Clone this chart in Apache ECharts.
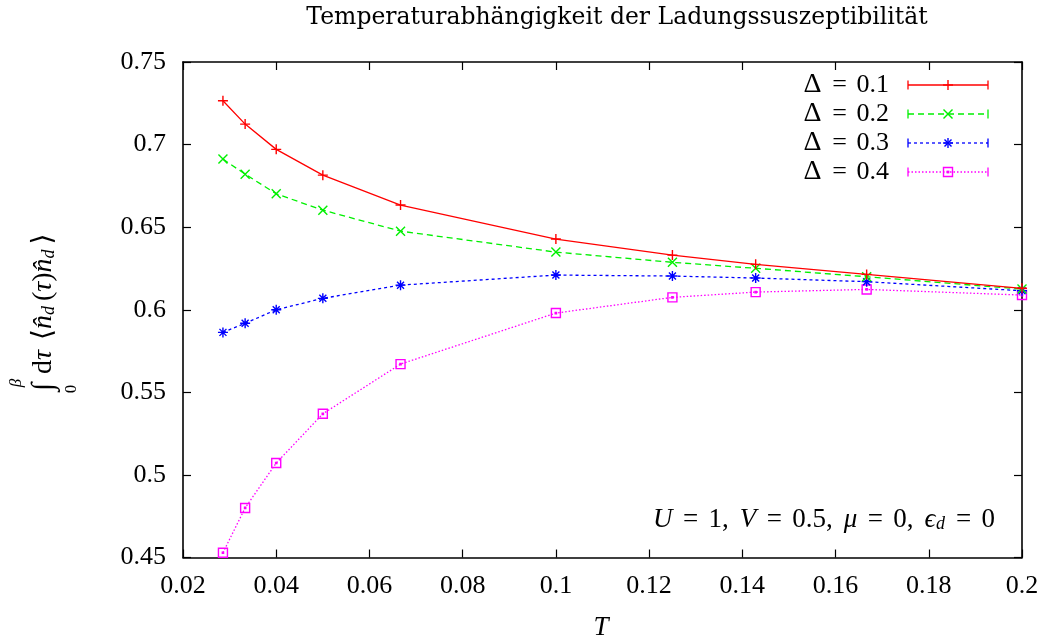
<!DOCTYPE html>
<html>
<head>
<meta charset="utf-8">
<script src="https://cdn.jsdelivr.net/npm/echarts@6/dist/echarts.min.js"></script>
<style>
  html, body { margin: 0; padding: 0; background: #fff; }
  #chart { width: 1052px; height: 643px; }
</style>
</head>
<body>
<div id="chart"></div>
<script>
// Temperature values T = 1/beta
const temperatures = [0.02857, 0.03333, 0.04, 0.05, 0.06667, 0.1, 0.125, 0.14286, 0.16667, 0.2];

// Integrated charge correlation for each Delta
const delta01 = [0.7265, 0.7124, 0.6971, 0.6815, 0.6634, 0.6428, 0.6331, 0.6275, 0.6214, 0.6130];
const delta02 = [0.6912, 0.6821, 0.6702, 0.6603, 0.6476, 0.6349, 0.6287, 0.6251, 0.6200, 0.6125];
const delta03 = [0.5863, 0.5918, 0.6000, 0.6069, 0.6149, 0.6210, 0.6204, 0.6192, 0.6170, 0.6115];
const delta04 = [0.4529, 0.4800, 0.5072, 0.5370, 0.5671, 0.5980, 0.6075, 0.6107, 0.6123, 0.6089];

const deltaLabels = ['0.1', '0.2', '0.3', '0.4'];
const xTicks = { min: 0.02, max: 0.2, step: 0.02 };
const yTicks = { min: 0.45, max: 0.75, step: 0.05 };

const FONT = '"Liberation Serif", "DejaVu Serif", serif';
const TITLE_FONT = '"DejaVu Serif", serif';

// gnuplot-like point glyphs (10x10 box)
const glyphs = {
  plus: 'M5,0L5,10M0,5L10,5',
  cross: 'M0,0L10,10M0,10L10,0',
  star: 'M5,0L5,10M0,5L10,5M1.5,1.5L8.5,8.5M1.5,8.5L8.5,1.5',
  box: 'M0,0L10,0L10,10L0,10ZM4.3,4.3L5.7,4.3L5.7,5.7L4.3,5.7Z'
};

const styles = [
  { data: delta01, color: '#ff0000', dash: 'solid', glyph: 'plus', size: 10 },
  { data: delta02, color: '#00f000', dash: [6, 4], glyph: 'cross', size: 9 },
  { data: delta03, color: '#0000ff', dash: [3, 3], glyph: 'star', size: 10 },
  { data: delta04, color: '#ff00ff', dash: [1.5, 2], glyph: 'box', size: 9 }
];

const trim = v => String(parseFloat(v.toFixed(3)));

const series = styles.map((s, i) => ({
  name: 'Δ = ' + deltaLabels[i],
  type: 'line',
  data: temperatures.map((t, k) => [t, s.data[k]]),
  symbol: 'path://' + glyphs[s.glyph],
  symbolSize: s.size,
  showAllSymbol: true,
  lineStyle: { color: s.color, width: 1.3, type: s.dash },
  itemStyle: { color: 'rgba(0,0,0,0)', borderColor: s.color, borderWidth: 1.4 },
  emphasis: { disabled: true },
  silent: true,
  z: 10 - i
}));

// Glyph drawn with plain graphic elements for the key
function keyGlyph(kind, cx, cy, sz, color) {
  const h = sz / 2;
  const st = { stroke: color, lineWidth: 1.4, fill: 'none' };
  const seg = (x1, y1, x2, y2) => ({ type: 'line', shape: { x1: cx + x1, y1: cy + y1, x2: cx + x2, y2: cy + y2 }, style: st });
  const out = [];
  if (kind === 'plus' || kind === 'star') { out.push(seg(0, -h, 0, h), seg(-h, 0, h, 0)); }
  if (kind === 'cross') { out.push(seg(-h, -h, h, h), seg(-h, h, h, -h)); }
  if (kind === 'star') { const d = h * 0.7; out.push(seg(-d, -d, d, d), seg(-d, d, d, -d)); }
  if (kind === 'box') {
    out.push({ type: 'rect', shape: { x: cx - h, y: cy - h, width: sz, height: sz }, style: st });
    out.push({ type: 'rect', shape: { x: cx - 0.7, y: cy - 0.7, width: 1.4, height: 1.4 }, style: st });
  }
  return out;
}

// Key drawn in the upper right corner
let legendGraphics = [];
const legendRows = [85, 114, 143, 172];
const keyTextRight = 889, lineL = 908, lineR = 988, capH = 9;
styles.forEach((s, i) => {
  const y = legendRows[i];
  const dash = s.dash === 'solid' ? null : s.dash;
  legendGraphics.push({
    type: 'text', x: keyTextRight, y: y,
    style: {
      text: '{D|Δ}{eq|=}' + deltaLabels[i], font: '26px ' + FONT, fill: '#000', align: 'right', verticalAlign: 'middle',
      rich: {
        D: { font: '28px ' + FONT, fill: '#000', width: 19, align: 'left' },
        eq: { font: '26px ' + FONT, fill: '#000', width: 34, align: 'center' }
      }
    }
  });
  legendGraphics.push({
    type: 'line', shape: { x1: lineL, y1: y, x2: lineR, y2: y },
    style: { stroke: s.color, lineWidth: 1.3, lineDash: dash }
  });
  [lineL, lineR].forEach(cx => legendGraphics.push({
    type: 'line', shape: { x1: cx, y1: y - capH / 2, x2: cx, y2: y + capH / 2 },
    style: { stroke: s.color, lineWidth: 1.3 }
  }));
  legendGraphics = legendGraphics.concat(keyGlyph(s.glyph, 948, y, s.size, s.color));
});

const chart = echarts.init(document.getElementById('chart'), null, { renderer: 'canvas' });

const axisCommon = {
  type: 'value',
  axisLine: { show: true, onZero: false, lineStyle: { color: '#000', width: 1.6 } },
  axisTick: { show: true, inside: true, length: 8, lineStyle: { color: '#000', width: 1.2 } },
  splitLine: { show: false }
};

chart.setOption({
  animation: false,
  backgroundColor: '#fff',
  grid: { left: 183, right: 30, top: 62, bottom: 85.5, containLabel: false },
  xAxis: [
    Object.assign({}, axisCommon, {
      position: 'bottom', min: xTicks.min, max: xTicks.max, interval: xTicks.step,
      axisLabel: { margin: 16, color: '#000', fontSize: 26, fontFamily: FONT, formatter: trim }
    }),
    Object.assign({}, axisCommon, {
      position: 'top', min: xTicks.min, max: xTicks.max, interval: xTicks.step,
      axisLabel: { show: false }
    })
  ],
  yAxis: [
    Object.assign({}, axisCommon, {
      position: 'left', min: yTicks.min, max: yTicks.max, interval: yTicks.step,
      axisLabel: { margin: 17, color: '#000', fontSize: 26, fontFamily: FONT, formatter: trim }
    }),
    Object.assign({}, axisCommon, {
      position: 'right', min: yTicks.min, max: yTicks.max, interval: yTicks.step,
      axisLabel: { show: false }
    })
  ],
  series: series,
  graphic: [
    {
      type: 'text', x: 617, y: 18,
      style: { text: 'Temperaturabhängigkeit der Ladungssuszeptibilität', font: '23.5px ' + TITLE_FONT, fill: '#000', align: 'center', verticalAlign: 'middle' }
    },
    {
      type: 'text', x: 601, y: 628,
      style: { text: 'T', font: 'italic 27px ' + FONT, fill: '#000', align: 'center', verticalAlign: 'middle' }
    },
    {
      type: 'text', x: 995, y: 520,
      style: {
        text: '{i|U}{eq|=}1,{sp| }{i|V}{eq|=}0.5,{sp| }{i|μ}{eq|=}0,{sp| }{i|ϵ}{s|d}{eq|=}0',
        font: '27px ' + FONT, fill: '#000', align: 'right', verticalAlign: 'middle',
        rich: {
          i: { font: 'italic 27px ' + FONT, fill: '#000' },
          eq: { font: '27px ' + FONT, fill: '#000', width: 36, align: 'center' },
          sp: { font: '27px ' + FONT, width: 11 },
          s: { font: 'italic 18px ' + FONT, fill: '#000', width: 10, padding: [8, 0, 0, 0] }
        }
      }
    },
    {
      // y-axis label, rotated to read bottom-to-top
      type: 'group', x: 43, y: 306, rotation: Math.PI / 2,
      children: [
        { type: 'text', x: -81, y: 1, style: { text: '∫', font: '30px ' + FONT, fill: '#000', align: 'center', verticalAlign: 'middle' } },
        { type: 'text', x: -77, y: -26, style: { text: 'β', font: 'italic 17px ' + FONT, fill: '#000', align: 'center', verticalAlign: 'middle' } },
        { type: 'text', x: -83, y: 29, style: { text: '0', font: '17px ' + FONT, fill: '#000', align: 'center', verticalAlign: 'middle' } },
        {
          type: 'text', x: -68, y: 1,
          style: {
            text: 'd{i|τ}{sp| }⟨{i|n̂}{s|d}({i|τ}){i|n̂}{s|d}⟩',
            font: '28px ' + FONT, fill: '#000', align: 'left', verticalAlign: 'middle',
            rich: {
              i: { font: 'italic 28px ' + FONT, fill: '#000' },
              sp: { font: '28px ' + FONT, width: 10 },
              s: { font: 'italic 18px ' + FONT, fill: '#000', width: 14, padding: [10, 0, 0, 0] }
            }
          }
        }
      ]
    }
  ].concat(legendGraphics)
});
</script>
</body>
</html>
